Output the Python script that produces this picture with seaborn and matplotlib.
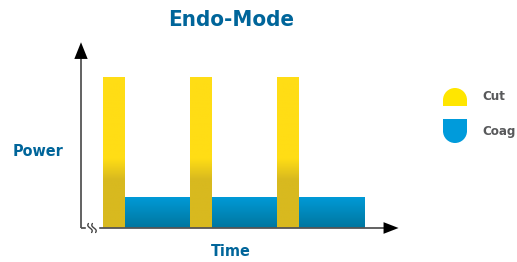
import numpy as np
import pandas as pd
import seaborn as sns
import matplotlib
matplotlib.use("Agg")
from matplotlib import pyplot as plt
from matplotlib import patches
from matplotlib.colors import to_rgb

# pulse train data (time units, power units)
cut_start = [1, 5, 9]
cut_width = [1, 1, 1]
cut_power = [10, 10, 10]
coag_start = [2, 6, 10]
coag_width = [3, 3, 3]
coag_power = [2, 2, 2]

title = "Endo-Mode"
xlabel = "Time"
ylabel = "Power"
legend_labels = ["Cut", "Coag"]

df = pd.DataFrame({
    "start": cut_start + coag_start,
    "width": cut_width + coag_width,
    "power": cut_power + coag_power,
    "mode": ["Cut"] * 3 + ["Coag"] * 3,
})

sns.set_theme(style="white")
plt.rcParams['font.family'] = ['DejaVu Sans']
plt.rcParams['font.stretch'] = 'condensed'

W, H = 517, 262
fig = plt.figure(figsize=(W / 100, H / 100), dpi=100)
ax = fig.add_axes([0, 0, 1, 1])
ax.set_axis_off()

# pixel mapping: time 0 at x=81px, 21.75 px/unit; power 0 at y=228px, 15.1 px/unit
x0px, xs = 81, 21.75
y0px, ys = 228, 15.1


def gradient(top, bottom, p_hi, p_lo, height):
    p = np.linspace(0, height, 200)
    t = np.clip((p - p_lo) / (p_hi - p_lo), 0, 1)[:, None]
    c = np.array(to_rgb(bottom)) * (1 - t) + np.array(to_rgb(top)) * t
    return c[:, None, :]


styles = {
    "Cut": dict(top="#FFDD15", bottom="#D8B91F", hi=4.6, lo=3.2),
    "Coag": dict(top="#009AD7", bottom="#00769E", hi=2.0, lo=0.0),
}

for mode in ["Coag", "Cut"]:
    sub = df[df["mode"] == mode]
    st = styles[mode]
    bars = ax.bar(sub["start"], sub["power"], width=sub["width"], align="edge",
                  color="none", linewidth=0)
    for b in bars:
        bx, by, bw, bh = b.get_x(), b.get_y(), b.get_width(), b.get_height()
        img = gradient(st["top"], st["bottom"], st["hi"], st["lo"], bh)
        ax.imshow(img, extent=[bx, bx + bw, by, by + bh], origin="lower",
                  aspect="auto", zorder=2)

ax.set_xlim(-x0px / xs, (W - x0px) / xs)
ax.set_ylim((y0px - H) / ys, y0px / ys)

# axes with arrows
ax.plot([0, 14.2], [0, 0], color="#555555", lw=1.3, zorder=3, solid_capstyle="butt")
ax.plot([0, 0], [0, 11.6], color="#555555", lw=1.3, zorder=3, solid_capstyle="butt")
ax.annotate("", xy=(14.6, 0), xytext=(14.0, 0),
            arrowprops=dict(arrowstyle="-|>,head_length=0.9,head_width=0.35",
                            color="black", lw=0, shrinkA=0, shrinkB=0))
ax.annotate("", xy=(0, 12.3), xytext=(0, 11.5),
            arrowprops=dict(arrowstyle="-|>,head_length=1.0,head_width=0.4",
                            color="black", lw=0, shrinkA=0, shrinkB=0))

# overlay in pixel coordinates for break mark, texts and legend
ov = fig.add_axes([0, 0, 1, 1])
ov.set_xlim(0, W)
ov.set_ylim(H, 0)
ov.set_axis_off()
ov.patch.set_alpha(0)

ov.add_patch(patches.Rectangle((86, 224), 12, 8, color="white", zorder=4))
tt = np.linspace(-np.pi, np.pi, 30)
for off in (0, 4):
    ov.plot(90 + off + 1.3 * np.sin(tt) + (tt / np.pi) * 1.6,
            228 + (tt / np.pi) * 4.5, color="#444444", lw=1.0, zorder=5)

ov.text(231, 20, title, ha="center", va="center", fontsize=16,
        fontweight="bold", color="#00659A")
ov.text(38, 152, ylabel, ha="center", va="center", fontsize=11.5,
        fontweight="bold", color="#00659A")
ov.text(231, 252, xlabel, ha="center", va="center", fontsize=11.5,
        fontweight="bold", color="#00659A")

# legend markers
ov.add_patch(patches.Wedge((455, 100), 12, 180, 360, color="#FFE600", lw=0))
ov.add_patch(patches.Rectangle((443, 99.5), 24, 6.5, color="#FFE600", lw=0))
ov.add_patch(patches.Rectangle((443, 119), 24, 12.5, color="#009BDB", lw=0))
ov.add_patch(patches.Wedge((455, 131), 12, 0, 180, color="#009BDB", lw=0))
ov.text(482, 97, legend_labels[0], ha="left", va="center", fontsize=9.5,
        fontweight="bold", color="#58595B")
ov.text(482, 131, legend_labels[1], ha="left", va="center", fontsize=9.5,
        fontweight="bold", color="#58595B")

fig.savefig("out.png", dpi=100)
